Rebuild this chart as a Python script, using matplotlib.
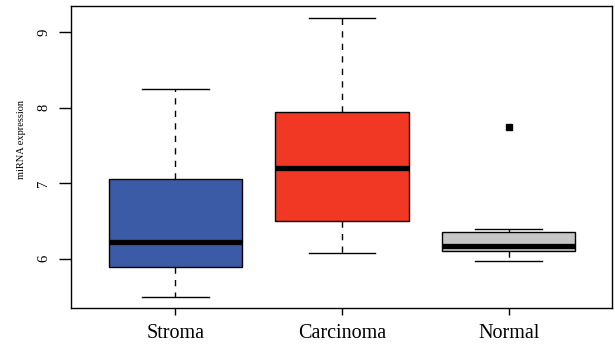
import matplotlib
matplotlib.use("Agg")
import matplotlib.pyplot as plt

# Summary statistics of miRNA expression per tissue group
groups = ["Stroma", "Carcinoma", "Normal"]
whisker_low = [5.49, 6.08, 5.97]
q1 = [5.89, 6.50, 6.10]
median = [6.225, 7.205, 6.17]
q3 = [7.055, 7.95, 6.36]
whisker_high = [8.245, 9.19, 6.40]
outliers = [[], [], [7.74]]
box_colors = ["#3B5BA7", "#F03825", "#C6C6C6"]
y_ticks = [6, 7, 8, 9]

plt.rcParams["font.family"] = ["Liberation Serif", "DejaVu Serif"]

fig = plt.figure(figsize=(6.15, 3.45), dpi=100)
ax = fig.add_axes([71 / 615, 1 - 308.3 / 345, (611.7 - 71) / 615, (308.3 - 6) / 345])

stats = []
for i, name in enumerate(groups):
    stats.append(dict(label=name, whislo=whisker_low[i], q1=q1[i], med=median[i],
                      q3=q3[i], whishi=whisker_high[i], fliers=outliers[i]))

positions = list(range(1, len(groups) + 1))
bp = ax.bxp(
    stats, positions=positions, widths=0.8, capwidths=0.4, patch_artist=True,
    boxprops=dict(edgecolor="black", linewidth=1.0),
    medianprops=dict(color="black", linewidth=3.8, solid_capstyle="butt"),
    whiskerprops=dict(color="black", linewidth=1.0, linestyle=(0, (4.5, 4.5))),
    capprops=dict(color="black", linewidth=1.0),
    flierprops=dict(marker="s", markerfacecolor="black", markeredgecolor="black",
                    markersize=4.5),
)
for patch, c in zip(bp["boxes"], box_colors):
    patch.set_facecolor(c)

ax.set_xlim(0.374, 3.618)
ax.set_ylim(5.343, 9.348)

ax.set_yticks(y_ticks)
ax.set_yticklabels([str(t) for t in y_ticks], rotation=90, va="center", fontsize=10.5)
ax.set_xticks(positions)
ax.set_xticklabels(groups, fontsize=14.5)
ax.tick_params(axis="y", length=9, width=1.0, pad=6)
ax.tick_params(axis="x", length=5, width=1.0, pad=6)
ax.set_ylabel("miRNA expression", fontsize=7.5)
ax.yaxis.set_label_coords(-0.083, 0.56)

for s in ax.spines.values():
    s.set_linewidth(1.0)
    s.set_color("black")

fig.savefig("out.png", dpi=100)
